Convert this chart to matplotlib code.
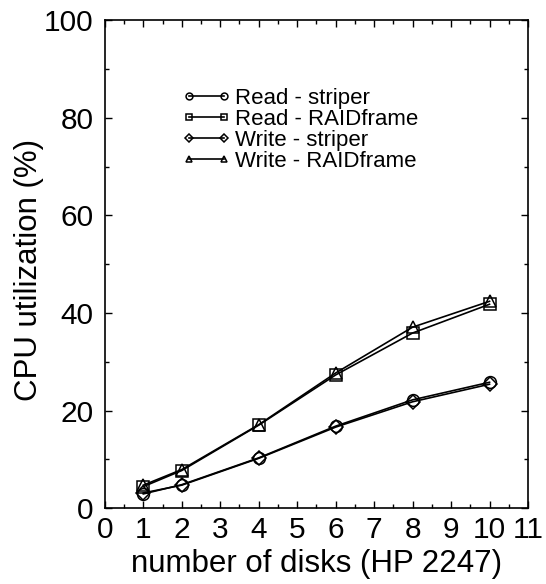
import matplotlib
matplotlib.use('Agg')
import matplotlib.pyplot as plt
from matplotlib.ticker import MultipleLocator

plt.rcParams['font.family'] = ['Liberation Sans', 'DejaVu Sans']

# DATOS
disks = [1, 2, 4, 6, 8, 10]
read_striper = [2.9, 4.8, 10.3, 16.8, 22.2, 25.8]
read_raid = [4.4, 7.7, 17.0, 27.3, 35.9, 41.8]
write_striper = [3.1, 4.7, 10.2, 16.6, 21.8, 25.4]
write_raid = [4.7, 7.9, 17.1, 27.7, 37.1, 42.4]

series = [
    (read_striper, 'o', 'Read - striper'),
    (read_raid, 's', 'Read - RAIDframe'),
    (write_striper, 'D', 'Write - striper'),
    (write_raid, '^', 'Write - RAIDframe'),
]

fig = plt.figure(figsize=(5.46, 5.84), dpi=100)
ax = fig.add_axes([0.192, 0.130, 0.775, 0.835])

for vals, mk, lab in series:
    ms = 7.0 if mk == 'D' else 8.5
    ax.plot(disks, vals, color='black', lw=1.2, marker=mk, ms=ms,
            mfc='none', mec='black', mew=1.1, label=lab)

ax.set_xlim(0, 11)
ax.set_ylim(0, 100)
ax.xaxis.set_major_locator(MultipleLocator(1))
ax.xaxis.set_minor_locator(MultipleLocator(0.5))
ax.yaxis.set_major_locator(MultipleLocator(20))
ax.yaxis.set_minor_locator(MultipleLocator(10))
ax.tick_params(which='both', direction='in', top=True, right=True,
               labelsize=21.5, width=1.0)
ax.tick_params(which='major', length=5)
ax.tick_params(axis='x', which='major', pad=6)
ax.tick_params(axis='y', which='major', pad=8)
ax.tick_params(which='minor', length=3)
for s in ax.spines.values():
    s.set_linewidth(1.2)

ax.set_xlabel('number of disks (HP 2247)', fontsize=22.5, labelpad=3)
ax.set_ylabel('CPU utilization (%)', fontsize=22.5, labelpad=0)
ax.yaxis.label.set_y(0.488)

leg = ax.legend(loc='upper left', bbox_to_anchor=(0.184, 0.862), frameon=False,
                fontsize=16, markerscale=0.58, handlelength=2.15,
                handletextpad=0.22, labelspacing=0.0, borderpad=0,
                borderaxespad=0, numpoints=2)

fig.savefig('out.png', dpi=100)
